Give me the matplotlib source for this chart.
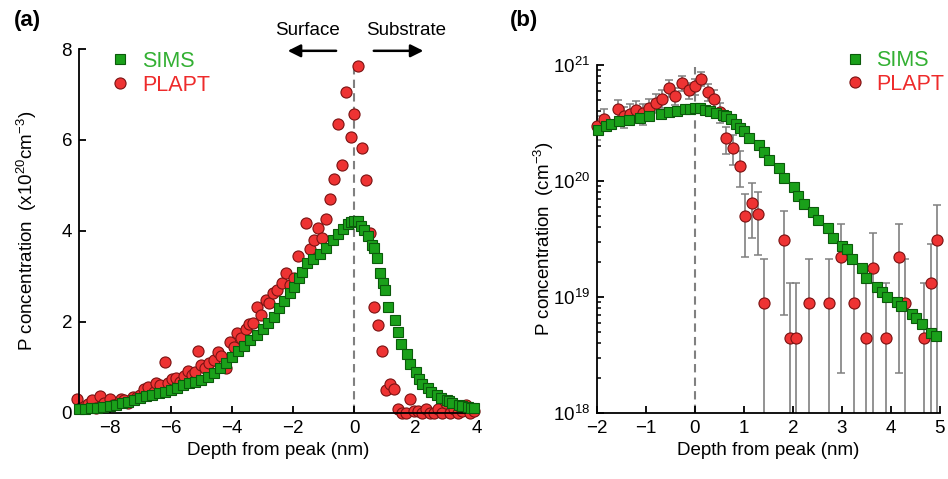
import matplotlib
matplotlib.use('Agg')
import matplotlib.pyplot as plt
import numpy as np
from matplotlib.lines import Line2D
from matplotlib.ticker import LogLocator, NullFormatter

plt.rcParams['font.family'] = ['Liberation Sans', 'DejaVu Sans']
plt.rcParams['mathtext.default'] = 'regular'

# Colors
SQ_FACE = '#1aa01a'
SQ_EDGE = '#0b5a0b'
CI_FACE = '#ee3333'
CI_EDGE = '#7a1212'
SIMS_TXT = '#33b033'
PLAPT_TXT = '#ee2b2b'
GRAY = '#808080'

FS = 13.5

# SIMS profile, depth (nm) and concentration (1e20 cm^-3)
sims_x = [-9.0, -8.8, -8.6, -8.4, -8.2, -8.0, -7.8, -7.6, -7.4, -7.2,
          -7.0, -6.8, -6.6, -6.4, -6.2, -6.0, -5.8, -5.6, -5.4, -5.2,
          -5.0, -4.8, -4.6, -4.4, -4.2, -4.0, -3.8, -3.6, -3.4, -3.2,
          -3.0,
          -2.83, -2.64, -2.45, -2.31, -2.12, -1.98, -1.82, -1.72, -1.55, -1.35,
          -1.12, -0.93, -0.69, -0.53, -0.36, -0.2, -0.1, 0.0,
          0.1, 0.2, 0.3, 0.43, 0.57, 0.63, 0.73, 0.83, 0.92, 1.0, 1.1,
          1.31, 1.41, 1.51, 1.71, 1.82, 2.02, 2.11, 2.22, 2.41, 2.51,
          2.71, 2.82, 3.01, 3.1, 3.2, 3.4, 3.5, 3.71, 3.81, 3.92,
          4.12, 4.21, 4.42, 4.52, 4.63, 4.82, 4.92]
sims_y = [0.08, 0.09, 0.10, 0.11, 0.13, 0.15, 0.18, 0.21, 0.25, 0.29,
          0.33, 0.37, 0.40, 0.44, 0.47, 0.51, 0.56, 0.61, 0.66, 0.69,
          0.72, 0.80, 0.88, 0.98, 1.10, 1.23, 1.37, 1.48, 1.60, 1.72,
          1.85,
          1.97, 2.11, 2.30, 2.46, 2.63, 2.77, 2.96, 3.1, 3.3, 3.38,
          3.5, 3.62, 3.8, 3.93, 4.04, 4.15, 4.2, 4.22,
          4.22, 4.12, 4.02, 3.88, 3.7, 3.62, 3.4, 3.08, 2.85, 2.7, 2.34,
          2.04, 1.78, 1.51, 1.29, 1.07, 0.89, 0.74, 0.63, 0.54, 0.46,
          0.39, 0.32, 0.275, 0.257, 0.214, 0.178, 0.145, 0.123, 0.11, 0.10,
          0.091, 0.083, 0.072, 0.066, 0.058, 0.049, 0.046]

# PLAPT profile, depth (nm), concentration and error (1e20 cm^-3)
plapt_x = [-9.06, -8.95, -8.8, -8.7, -8.56, -8.43, -8.3, -8.17, -8.0, -7.9,
           -7.77, -7.64, -7.52, -7.4, -7.25, -7.1, -7.0, -6.88, -6.74, -6.56,
           -6.48, -6.35, -6.19, -6.08, -5.95, -5.83, -5.7, -5.58, -5.45, -5.32,
           -5.2, -5.12, -5.0, -4.89, -4.75, -4.6, -4.47, -4.35, -4.21, -4.08,
           -3.95, -3.83, -3.72, -3.55, -3.45, -3.33, -3.17, -3.05, -2.89, -2.78,
           -2.65, -2.52, -2.38, -2.25, -2.12,
           -1.99, -1.86, -1.58, -1.45, -1.32, -1.2, -1.06, -0.94, -0.79, -0.67,
           -0.53, -0.4, -0.27, -0.13, 0.0, 0.12, 0.26, 0.39, 0.51, 0.63,
           0.78, 0.91, 1.03, 1.16, 1.29, 1.41, 1.55, 1.68, 1.82, 1.95,
           2.07, 2.2, 2.33, 2.46, 2.6, 2.73, 2.86, 2.99, 3.12, 3.25,
           3.38, 3.5, 3.64, 3.77, 3.9, 4.03, 4.17, 4.29, 4.42, 4.55,
           4.68, 4.82, 4.95]
plapt_y = [0.30, 0.12, 0.15, 0.20, 0.29, 0.10, 0.37, 0.22, 0.30, 0.18,
           0.20, 0.30, 0.28, 0.22, 0.35, 0.35, 0.40, 0.53, 0.57, 0.47,
           0.67, 0.62, 1.12, 0.67, 0.75, 0.78, 0.69, 0.82, 0.92, 0.84,
           0.90, 1.37, 1.05, 0.99, 1.10, 1.16, 1.34, 1.25, 0.99, 1.57,
           1.45, 1.76, 1.65, 1.85, 1.95, 1.97, 2.33, 2.15, 2.48, 2.42,
           2.64, 2.70, 2.85, 3.08, 2.81,
           2.96, 3.44, 4.17, 3.6, 3.8, 4.07, 3.84, 4.26, 4.7, 5.14,
           6.35, 5.45, 7.05, 6.06, 6.57, 7.63, 5.83, 5.12, 3.95, 2.33,
           1.94, 1.36, 0.50, 0.64, 0.52, 0.089, 0.0, 0.0, 0.31, 0.044,
           0.044, 0.0, 0.089, 0.0, 0.0, 0.089, 0.0, 0.222, 0.0, 0.089,
           0.0, 0.044, 0.178, 0.0, 0.044, 0.0, 0.222, 0.089, 0.0, 0.0,
           0.044, 0.133, 0.31]
plapt_err = [0.22, 0.14, 0.16, 0.18, 0.22, 0.13, 0.24, 0.19, 0.22, 0.17,
             0.18, 0.22, 0.21, 0.19, 0.24, 0.24, 0.25, 0.29, 0.30, 0.27,
             0.33, 0.31, 0.42, 0.33, 0.35, 0.35, 0.33, 0.36, 0.38, 0.37,
             0.38, 0.47, 0.41, 0.40, 0.42, 0.43, 0.46, 0.45, 0.40, 0.50,
             0.48, 0.53, 0.51, 0.54, 0.56, 0.56, 0.61, 0.59, 0.63, 0.62,
             0.65, 0.66, 0.68, 0.70, 0.67,
             0.69, 0.74, 0.82, 0.76, 0.78, 0.81, 0.78, 0.83, 0.87, 0.91,
             1.01, 0.93, 1.06, 0.98, 1.03, 1.10, 0.97, 0.91, 0.80, 0.61,
             0.56, 0.47, 0.28, 0.32, 0.29, 0.125, 0.0, 0.0, 0.24, 0.089,
             0.089, 0.0, 0.125, 0.0, 0.0, 0.125, 0.0, 0.20, 0.0, 0.125,
             0.0, 0.089, 0.18, 0.0, 0.089, 0.0, 0.20, 0.125, 0.0, 0.0,
             0.089, 0.155, 0.31]

assert len(sims_x) == len(sims_y)
assert len(plapt_x) == len(plapt_y) == len(plapt_err)

sims_x = np.array(sims_x); sims_y = np.array(sims_y)
plapt_x = np.array(plapt_x); plapt_y = np.array(plapt_y); plapt_err = np.array(plapt_err)

fig = plt.figure(figsize=(9.48, 4.79), dpi=100)
ax_a = fig.add_axes([0.0833, 0.1378, 0.4198, 0.7599])
ax_b = fig.add_axes([0.6297, 0.1378, 0.3618, 0.7265])

sq_kw = dict(ls='none', marker='s', ms=7.8, mfc=SQ_FACE, mec=SQ_EDGE, mew=0.8)
ci_kw = dict(ls='none', marker='o', ms=8.0, mfc=CI_FACE, mec=CI_EDGE, mew=0.8)


def style_axes(ax):
    for s in ['top', 'right']:
        ax.spines[s].set_visible(False)
    for s in ['left', 'bottom']:
        ax.spines[s].set_linewidth(1.3)
    ax.tick_params(which='major', direction='in', length=5, width=1.3,
                   labelsize=FS, pad=5)
    ax.tick_params(which='minor', direction='in', length=3, width=1.1)


# ---------------- panel (a) ----------------
ax = ax_a
ax.plot([0, 0], [0, 7.6], ls=(0, (4, 2.5)), color=GRAY, lw=1.5, zorder=1)
ma = plapt_x <= 4.0
ax.plot(plapt_x[ma], plapt_y[ma], clip_on=False, zorder=2, **ci_kw)
ms = sims_x <= 4.0
ax.plot(sims_x[ms], sims_y[ms], clip_on=False, zorder=3, **sq_kw)
ax.set_xlim(-9, 4)
ax.set_ylim(0, 8)
ax.set_xticks([-8, -6, -4, -2, 0, 2, 4])
ax.set_yticks([0, 2, 4, 6, 8])
style_axes(ax)
ax.set_xlabel('Depth from peak (nm)', fontsize=FS)
ax.set_ylabel('P concentration  (x10$^{20}$cm$^{-3}$)', fontsize=FS)
ax.yaxis.set_label_coords(-0.10, 0.5)

arrow_kw = dict(arrowstyle='-|>', color='k', lw=1.8, mutation_scale=19,
                shrinkA=0, shrinkB=0)
ax.annotate('', xy=(-2.18, 7.96), xytext=(-0.6, 7.96), annotation_clip=False,
            arrowprops=arrow_kw)
ax.annotate('', xy=(2.25, 7.96), xytext=(0.63, 7.96), annotation_clip=False,
            arrowprops=arrow_kw)
ax.text(-1.52, 8.4, 'Surface', ha='center', va='center', fontsize=FS, clip_on=False)
ax.text(1.69, 8.4, 'Substrate', ha='center', va='center', fontsize=FS, clip_on=False)

handles = [Line2D([], [], **sq_kw), Line2D([], [], **ci_kw)]
leg_kw = dict(frameon=False, fontsize=15.5, handlelength=0.8, handletextpad=0.6,
              labelspacing=0.12, labelcolor=[SIMS_TXT, PLAPT_TXT], borderaxespad=0.2)
ax.legend(handles, ['SIMS', 'PLAPT'], loc='upper left', bbox_to_anchor=(0.05, 1.03), **leg_kw)

# ---------------- panel (b) ----------------
ax = ax_b
ax.set_yscale('log')
ax.vlines(0, 1e18, 9.6e20, colors=GRAY, linestyles=(0, (4, 2.5)), lw=1.5, zorder=1)

mb = (plapt_x >= -2.0) & (plapt_y > 0)
yb = plapt_y[mb] * 1e20
eb = plapt_err[mb] * 1e20
lower = np.where(eb >= yb, yb * 0.999, eb)
ax.errorbar(plapt_x[mb], yb, yerr=[lower, eb], fmt='none', ecolor=GRAY,
            elinewidth=1.2, capsize=3, capthick=1.1, zorder=2)
ax.plot(plapt_x[mb], yb, clip_on=False, zorder=3, **ci_kw)
ms = sims_x >= -2.0
ax.plot(sims_x[ms], sims_y[ms] * 1e20, clip_on=False, zorder=4, **sq_kw)

ax.set_xlim(-2, 5)
ax.set_ylim(1e18, 1e21)
ax.set_xticks([-2, -1, 0, 1, 2, 3, 4, 5])
ax.yaxis.set_major_locator(LogLocator(base=10, numticks=10))
ax.yaxis.set_minor_locator(LogLocator(base=10, subs=np.arange(2, 10), numticks=20))
ax.yaxis.set_minor_formatter(NullFormatter())
style_axes(ax)
ax.set_xlabel('Depth from peak (nm)', fontsize=FS)
ax.set_ylabel('P concentration  (cm$^{-3}$)', fontsize=FS)
ax.yaxis.set_label_coords(-0.12, 0.5)

ax.legend(handles, ['SIMS', 'PLAPT'], loc='upper right', bbox_to_anchor=(1.05, 1.08), **leg_kw)

fig.text(0.0285, 0.958, '(a)', fontsize=16, fontweight='bold', ha='center', va='center')
fig.text(0.553, 0.958, '(b)', fontsize=16, fontweight='bold', ha='center', va='center')

fig.savefig('out.png', dpi=100)
